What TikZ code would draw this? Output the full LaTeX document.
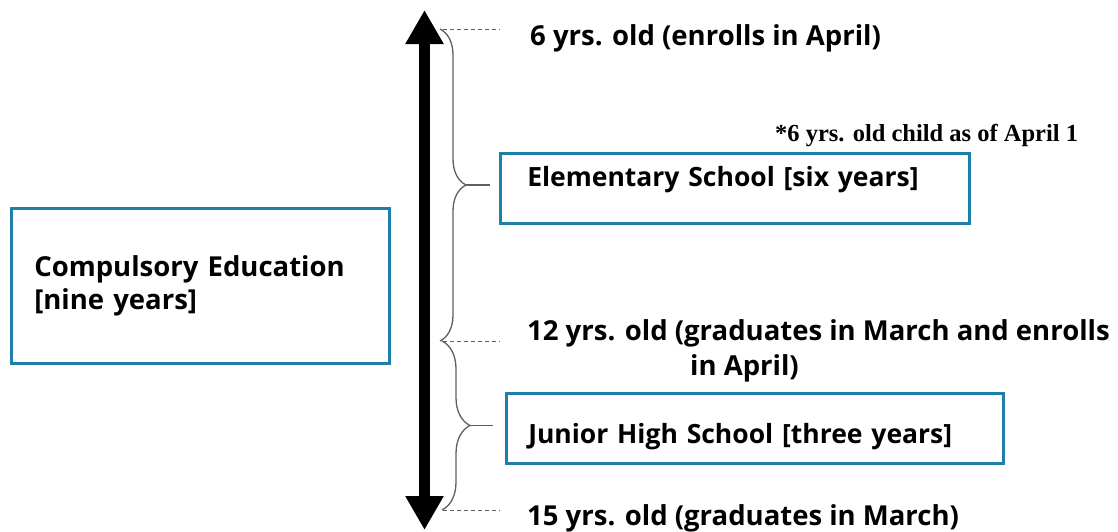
\documentclass[tikz,border=0pt]{standalone}
\usepackage{fontspec}
\setmainfont{Open Sans}
\newfontfamily\notefont{Liberation Serif}
\usepackage{tikz}
\usetikzlibrary{arrows.meta}
\usetikzlibrary{decorations.pathreplacing}
\definecolor{boxblue}{RGB}{30,128,170}
\definecolor{bracegray}{RGB}{95,95,95}

\begin{document}
\begin{tikzpicture}[x=1pt, y=-1pt,
		stage/.style={draw=boxblue, line width=2.5pt, rectangle, anchor=north west,
			align=left, font=\fontsize{26.5}{33}\selectfont\bfseries, inner ysep=0pt},
		agetext/.style={anchor=base west, inner sep=0pt, font=\fontsize{27.5}{34}\selectfont\bfseries},
		bracket/.style={draw=bracegray, line width=1.3pt, decorate},
		agemark/.style={draw=bracegray, line width=1pt, dash pattern=on 4pt off 3pt}]
		\useasboundingbox (0,0) rectangle (1118,531);
		
		% time line
		\draw [line width=11pt, {Triangle[width=36pt,length=34pt]}-{Triangle[width=36pt,length=34pt]}] (424.5,530) -- (424.5,10);
		
		% boxes
		\node [stage, minimum width=378pt, minimum height=155pt, text width=332pt, inner xsep=23pt, font=\fontsize{27.5}{33}\selectfont\bfseries] (comp) at (10,207) {Compulsory Education\\{[nine years]}};
		\node [stage, minimum width=469pt, minimum height=70pt, text width=415pt, inner xsep=27pt, text height=14pt, text depth=18pt] (elem) at (499,152) {Elementary School [six years]};
		\node [stage, minimum width=497pt, minimum height=70pt, text width=453pt, inner xsep=22pt, text height=30pt, text depth=0pt] (junior) at (505,392) {Junior High School [three years]};
		
		% ages
		\node [agetext] (six) at (530,45) {6 yrs. old (enrolls in April)};
		\node [anchor=base west, inner sep=0pt, font=\notefont\fontsize{24.5}{28}\selectfont\bfseries] (note) at (775,141) {*6 yrs. old child as of April 1};
		\node [agetext] (twelve) at (527,340) {12 yrs. old (graduates in March and enrolls};
		\node [agetext] (twelveb) at (690,375) {in April)};
		\node [agetext] (fifteen) at (527,525) {15 yrs. old (graduates in March)};
		
		% marks at the ages
		\coordinate (m6) at (443,29);
		\coordinate (m12) at (443,341);
		\coordinate (m15) at (443,510);
		\draw [agemark] (m6) -- ++(57,0);
		\draw [agemark] (m12) -- ++(57,0);
		\draw [agemark] (m15) -- ++(57,0);
		
		% braces
		\draw [bracket, decoration={brace, amplitude=26pt}] (440,29) -- (440,341);
		\draw [bracket, decoration={brace, amplitude=28pt}] (442,341) -- (442,510);
		\coordinate (tipA) at (466,185);
		\coordinate (tipB) at (470,425.5);
		\draw [bracket] (tipA) -- (tipA -| elem.west) [shorten >=9pt];
		\draw [bracket] (tipB) -- (tipB -| junior.west) [shorten >=12pt];
	\end{tikzpicture}
\end{document}
